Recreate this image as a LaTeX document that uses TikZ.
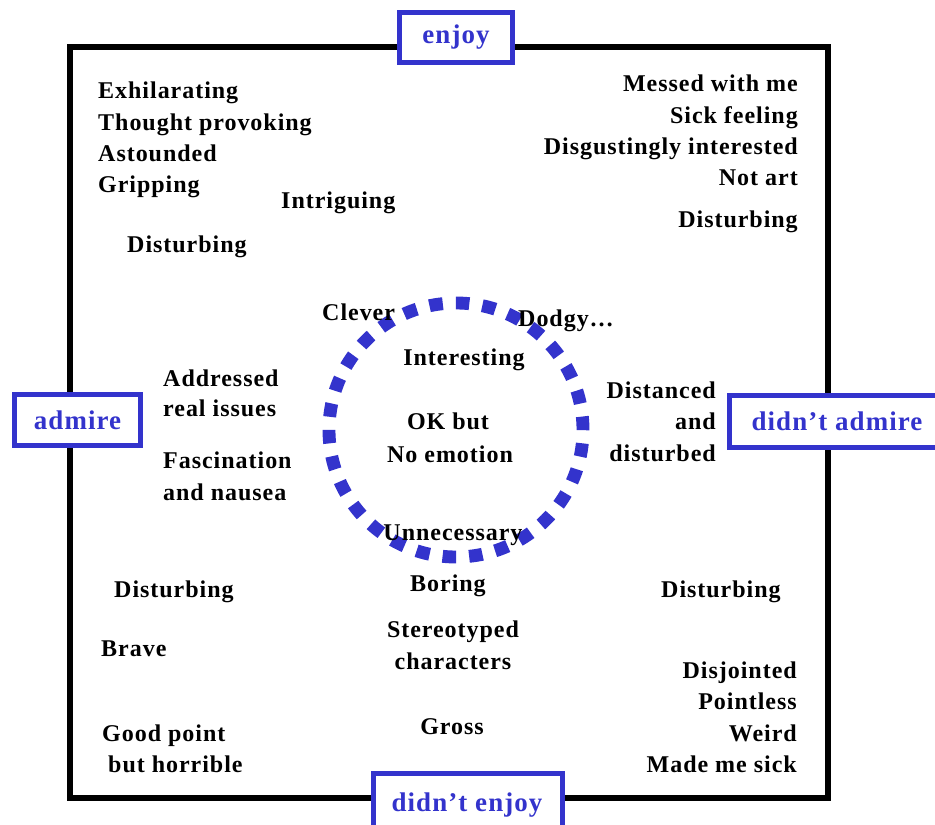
\documentclass[tikz,border=0pt]{standalone}
\usepackage{fontspec}
\setmainfont{Liberation Serif}[LetterSpace=4]
\definecolor{boxblue}{RGB}{51,51,204}
\tikzset{
  word/.style={font=\bfseries\fontsize{20.5}{24}\selectfont, inner sep=0pt},
  axisbox/.style={draw=boxblue, line width=4.3pt, fill=white, text=boxblue,
    font=\bfseries\fontsize{23}{27}\selectfont, inner sep=0pt}
}
\begin{document}
\begin{tikzpicture}[x=0.03cm, y=-0.03cm]
\useasboundingbox (0,0) rectangle (935,825);
\clip (0,0) rectangle (935,825);

% outer frame
\draw[line width=5pt] (70,47) rectangle (828,798);

% dotted ring in the middle
\node[circle, draw=boxblue, line width=11pt, dash pattern=on 11.5pt off 11.2pt,
  minimum size=216.8pt, inner sep=0pt] (ring) at (456,430) {};

% axis labels
\node[axisbox, minimum width=96.5pt, minimum height=42.7pt] (enjoy) at (456,37.5) {enjoy};
\node[axisbox, minimum width=107.5pt, minimum height=43.5pt] (admire) at (77.5,420) {admire};
\node[axisbox, minimum width=183.5pt, minimum height=44.4pt] (noadmire) at (837,421.5) {didn’t admire};
\node[axisbox, minimum width=161pt, minimum height=52pt, text depth=0pt] (noenjoy) at (468,804) {};
\node[font=\bfseries\fontsize{23}{27}\selectfont, text=boxblue, inner sep=0pt, anchor=base] (noenjoytxt) at (467,811) {didn’t enjoy};

% enjoy + admire
\foreach \t [count=\i] in {Exhilarating, Thought provoking, Astounded, Gripping}
  \node[word, anchor=base west] (ea\i) at (98,{99+31.3*(\i-1)}) {\t};
\node[word, anchor=base west] (intrig) at (281,209) {Intriguing};
\node[word, anchor=base west] (disttl) at (127,253) {Disturbing};

% enjoy + didn't admire
\foreach \t [count=\i] in {Messed with me, Sick feeling, Disgustingly interested, Not art}
  \node[word, anchor=base east] (en\i) at (798,{92+31.3*(\i-1)}) {\t};
\node[word, anchor=base east] (disttr) at (798,228) {Disturbing};

% middle
\node[word, anchor=base west] (clever) at (322,320) {Clever};
\node[word, anchor=base west] (dodgy) at (518,327) {Dodgy…};
\node[word, anchor=base] (interest) at (464,365) {Interesting};
\node[word, anchor=base] (okbut) at (448,429) {OK but};
\node[word, anchor=base] (noemo) at (450,462) {No emotion};
\node[word, anchor=base] (unnec) at (453,540) {Unnecessary};

% admire side
\node[word, anchor=base west] (addr1) at (163,386) {Addressed};
\node[word, anchor=base west] (addr2) at (163,416) {real issues};
\node[word, anchor=base west] (fasc1) at (163,468) {Fascination};
\node[word, anchor=base west] (fasc2) at (163,500) {and nausea};

% didn't admire side
\foreach \t [count=\i] in {Distanced, and, disturbed}
  \node[word, anchor=base east] (dist\i) at (716,{398+31.5*(\i-1)}) {\t};

% didn't enjoy + admire
\node[word, anchor=base west] (distbl) at (114,597) {Disturbing};
\node[word, anchor=base west] (brave) at (101,656) {Brave};
\node[word, anchor=base west] (good1) at (102,741) {Good point};
\node[word, anchor=base west] (good2) at (108,772) {but horrible};

% didn't enjoy, centre
\node[word, anchor=base] (boring) at (448,591) {Boring};
\node[word, anchor=base] (stereo1) at (453,637) {Stereotyped};
\node[word, anchor=base] (stereo2) at (453,669) {characters};
\node[word, anchor=base] (gross) at (452,734) {Gross};

% didn't enjoy + didn't admire
\node[word, anchor=base west] (distbr) at (661,597) {Disturbing};
\foreach \t [count=\i] in {Disjointed, Pointless, Weird, Made me sick}
  \node[word, anchor=base east] (nn\i) at (797,{678+31.6*(\i-1)}) {\t};

\end{tikzpicture}
\end{document}
